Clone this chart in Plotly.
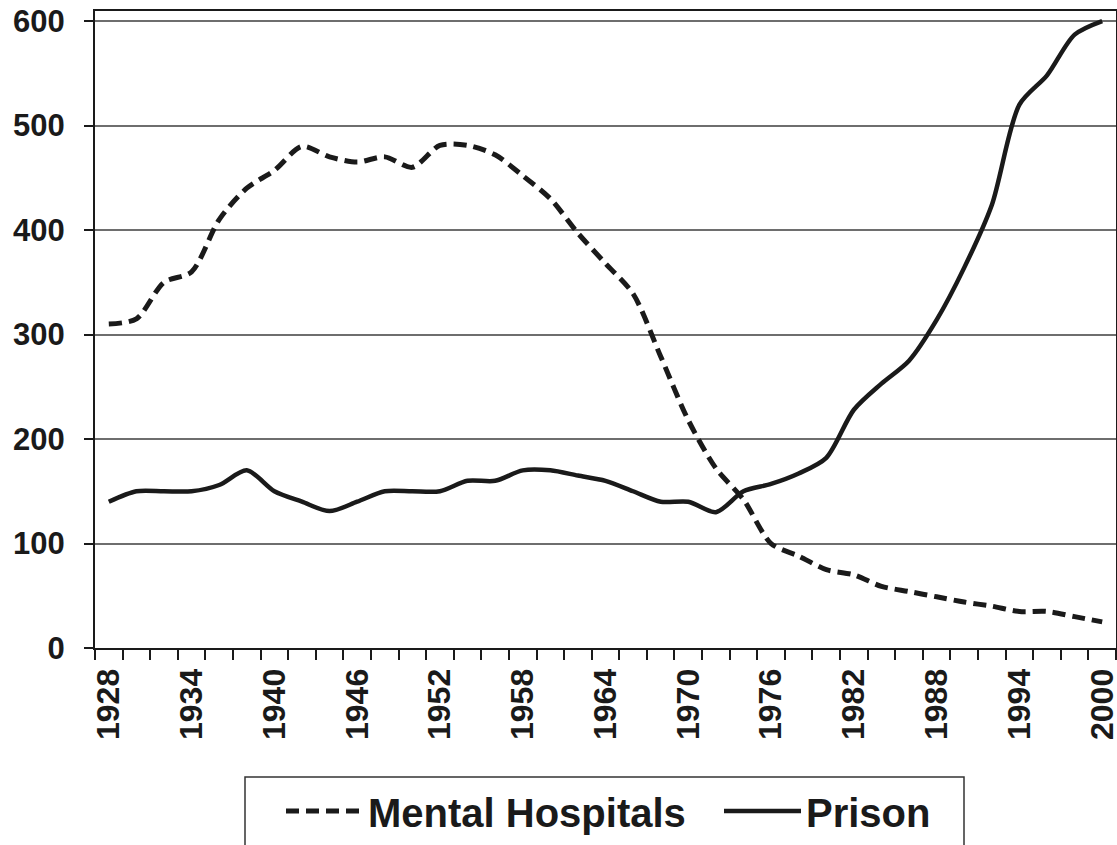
import plotly.graph_objects as go

# ── Data (every 2 years) ──────────────────────────────────────────────────────
YEARS = list(range(1928, 2001, 2))

MENTAL_HOSPITALS = [310, 315, 350, 360, 410, 440, 457, 480, 470, 465,
                    470, 460, 481, 481, 472, 452, 430, 397, 368, 339,
                    279, 218, 172, 142, 100, 88, 75, 70, 59, 54,
                    49, 44, 40, 35, 35, 30, 25]

PRISON = [140, 150, 150, 150, 156, 170, 150, 140, 131, 140,
          150, 150, 150, 160, 160, 170, 170, 165, 160, 150,
          140, 140, 130, 150, 157, 167, 182, 228, 253, 275,
          314, 364, 424, 520, 548, 587, 600]

TICK_YEARS = list(range(1928, 2001, 6))

# ── Style ─────────────────────────────────────────────────────────────────────
INK = "#1a1a1a"
GRID = "#6e6e6e"
FONT = "Liberation Sans, Arial, sans-serif"

# plot area in pixels (for placing the legend box)
L, R, T, B = 95, 1116, 11, 648
W_PX, H_PX = R - L, B - T


def px_x(x):
    return (x - L) / W_PX


def px_y(y):
    return (B - y) / H_PX


fig = go.Figure()

fig.add_trace(go.Scatter(
    x=YEARS, y=MENTAL_HOSPITALS,
    name="Mental Hospitals",
    mode="lines",
    line=dict(color=INK, width=5, dash="13px,7px", shape="spline", smoothing=0.8),
    legendwidth=346,
))

fig.add_trace(go.Scatter(
    x=YEARS, y=PRISON,
    name="Prison",
    mode="lines",
    line=dict(color=INK, width=4.5, shape="spline", smoothing=0.8),
    legendwidth=130,
))

fig.update_layout(
    width=1117, height=845,
    paper_bgcolor="white",
    plot_bgcolor="white",
    font=dict(family=FONT, color=INK, size=30),
    margin=dict(l=L, r=1117 - R, t=T, b=845 - B),
    showlegend=True,
    legend=dict(
        orientation="h",
        x=px_x(281), xanchor="left",
        y=px_y(811), yanchor="middle",
        borderwidth=0,
        bgcolor="rgba(0,0,0,0)",
        font=dict(family=FONT, size=40, color=INK, weight="bold"),
        itemwidth=77,
        tracegroupgap=0,
    ),
    shapes=[dict(
        type="rect", xref="paper", yref="paper",
        x0=px_x(245), x1=px_x(964), y0=px_y(860), y1=px_y(777),
        line=dict(color="#333333", width=1.5),
        fillcolor="rgba(0,0,0,0)",
        layer="below",
    )],
)

fig.update_xaxes(
    range=[1927, 2001],
    tickvals=TICK_YEARS,
    tickangle=-90,
    tickfont=dict(family=FONT, size=32, color=INK, weight="bold"),
    ticks="outside", ticklen=10, tickcolor="rgba(0,0,0,0)",
    ticklabelstandoff=-4,
    ticklabeloverflow="allow",
    minor=dict(tick0=1927, dtick=2, ticks="outside", ticklen=10,
               tickcolor=INK, tickwidth=1.5, showgrid=False),
    showgrid=False,
    showline=True, linecolor=INK, linewidth=2, mirror=True,
    zeroline=False,
    automargin=False,
)

fig.update_yaxes(
    range=[0, 609.6],
    tickvals=[0, 100, 200, 300, 400, 500, 600],
    tickfont=dict(family=FONT, size=31, color=INK, weight="bold"),
    ticks="outside", ticklen=9, tickcolor=INK, tickwidth=1.5,
    ticklabelstandoff=13,
    showgrid=True, gridcolor=GRID, gridwidth=2,
    showline=True, linecolor=INK, linewidth=2, mirror=True,
    zeroline=False,
    automargin=False,
)

# the page body has a default 8px margin; drop it so the figure sits at 0,0
fig.write_html("out.html", config={"displayModeBar": False},
               post_script="document.body.style.margin='0';")
